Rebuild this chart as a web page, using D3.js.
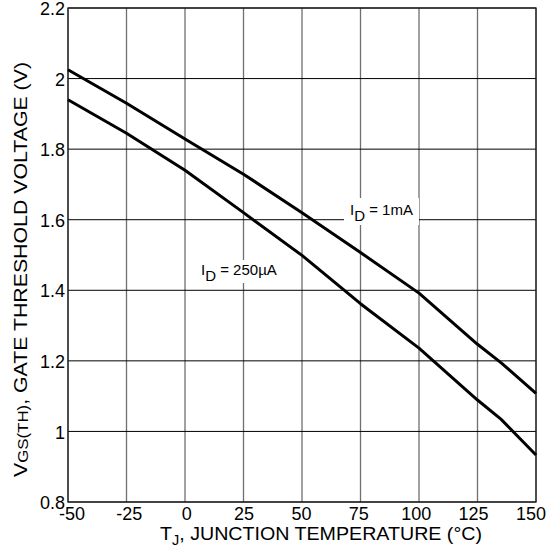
<!DOCTYPE html>
<html>
<head>
<meta charset="utf-8">
<script src="https://cdn.jsdelivr.net/npm/d3@7"></script>
<style>
body { margin:0; background:#fff; }
text { font-family: "Liberation Sans", Arial, Helvetica, sans-serif; fill:#000; }
</style>
</head>
<body>
<div id="chart"></div>
<script>
// temperatures (deg C)
var temps = [-50, -25, 0, 25, 50, 75, 100, 125, 135, 150];
// gate threshold voltage, V
var vth1mA = [2.025, 1.93, 1.829, 1.729, 1.62, 1.507, 1.392, 1.247, 1.195, 1.108];
var vth250uA = [1.94, 1.845, 1.74, 1.62, 1.499, 1.362, 1.236, 1.089, 1.035, 0.933];

var xTicks = [-50, -25, 0, 25, 50, 75, 100, 125, 150];
var yTicks = [0.8, 1, 1.2, 1.4, 1.6, 1.8, 2, 2.2];

var width = 555, height = 548;
// note: "top" is taken by window.top, so plot edges get their own names
var plotL = 68, plotR = 536, plotT = 8, plotB = 502;

var svg = d3.select("#chart").append("svg")
	.attr("width", width).attr("height", height);

var x = d3.scaleLinear().domain([-50, 150]).range([plotL, plotR]);
var y = d3.scaleLinear().domain([0.8, 2.2]).range([plotB, plotT]);
// tick labels sit on a slightly tighter spacing than the grid
var xLab = d3.scaleLinear().domain([-50, 150]).range([plotL + 4, plotR - 5]);

// grid
svg.append("g").selectAll("line").data(xTicks).join("line")
	.attr("x1", function(d) { return x(d); }).attr("x2", function(d) { return x(d); })
	.attr("y1", plotT).attr("y2", plotB)
	.attr("stroke", "#6f6f6f").attr("stroke-width", 1.3);
svg.append("g").selectAll("line").data(yTicks).join("line")
	.attr("x1", plotL).attr("x2", plotR)
	.attr("y1", function(d) { return y(d); }).attr("y2", function(d) { return y(d); })
	.attr("stroke", "#000").attr("stroke-width", 1);

// frame
svg.append("rect").attr("x", plotL).attr("y", plotT)
	.attr("width", plotR - plotL).attr("height", plotB - plotT)
	.attr("fill", "none").attr("stroke", "#222").attr("stroke-width", 1.3);

// curves
var line = d3.line()
	.x(function(d) { return x(d[0]); })
	.y(function(d) { return y(d[1]); });

[vth1mA, vth250uA].forEach(function(vals) {
	svg.append("path")
		.datum(temps.map(function(t, i) { return [t, vals[i]]; }))
		.attr("d", line)
		.attr("fill", "none").attr("stroke", "#000").attr("stroke-width", 3)
		.attr("stroke-linejoin", "round");
});

// curve labels, white box behind
function curveLabel(bx, by, bw, bh, tx, ty, val) {
	svg.append("rect").attr("x", bx).attr("y", by).attr("width", bw).attr("height", bh).attr("fill", "#fff");
	var t = svg.append("text").attr("x", tx).attr("y", ty).style("font-size", "15px");
	t.append("tspan").text("I");
	t.append("tspan").attr("dy", 6).text("D");
	t.append("tspan").attr("dy", -6).text(" = " + val);
}
curveLabel(344, 198, 75, 27, 350, 215, "1mA");
curveLabel(197, 260, 84, 23, 201, 275, "250\u00b5A");

// y tick labels
svg.append("g").selectAll("text").data(yTicks).join("text")
	.attr("x", plotL - 3)
	.attr("y", function(d) { return y(d); })
	.attr("dy", "0.4em")
	.attr("text-anchor", "end")
	.style("font-size", "18px")
	.text(function(d) { return d; });

// x tick labels
svg.append("g").selectAll("text").data(xTicks).join("text")
	.attr("x", function(d) { return xLab(d); })
	.attr("y", 520)
	.attr("text-anchor", "middle")
	.style("font-size", "18px")
	.text(function(d) { return d; });

// axis titles
var xt = svg.append("text").attr("x", 160).attr("y", 540)
	.attr("textLength", 322).attr("lengthAdjust", "spacingAndGlyphs")
	.style("font-size", "19px");
xt.append("tspan").text("T");
xt.append("tspan").attr("dy", 5).style("font-size", "14px").text("J");
xt.append("tspan").attr("dy", -5).text(", JUNCTION TEMPERATURE (\u00b0C)");

var yt = svg.append("text")
	.attr("transform", "translate(27,477) rotate(-90)")
	.attr("textLength", 415).attr("lengthAdjust", "spacingAndGlyphs")
	.style("font-size", "19px");
yt.append("tspan").text("V");
yt.append("tspan").attr("dy", 1).style("font-size", "15px").text("GS(TH)");
yt.append("tspan").attr("dy", -1).text(", GATE THRESHOLD VOLTAGE (V)");
</script>
</body>
</html>
